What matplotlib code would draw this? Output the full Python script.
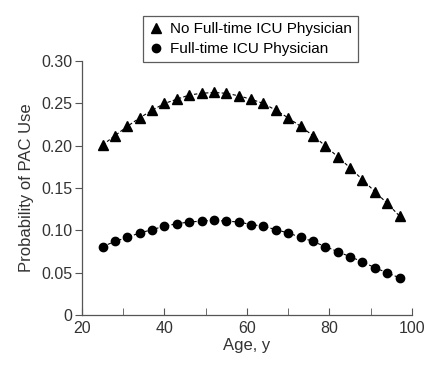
import matplotlib
matplotlib.use("Agg")
import matplotlib.pyplot as plt
from matplotlib.ticker import MultipleLocator, FuncFormatter

plt.rcParams['font.family'] = ['Liberation Sans', 'DejaVu Sans']

# age points (every 3 years)
ages = [25, 28, 31, 34, 37, 40, 43, 46, 49, 52, 55, 58, 61,
        64, 67, 70, 73, 76, 79, 82, 85, 88, 91, 94, 97]

# no full-time ICU physician
no_fulltime = [0.201, 0.212, 0.223, 0.233, 0.242, 0.250, 0.255, 0.260, 0.262,
               0.263, 0.262, 0.259, 0.255, 0.250, 0.242, 0.233, 0.223, 0.212,
               0.200, 0.187, 0.174, 0.160, 0.146, 0.132, 0.117]

# full-time ICU physician
fulltime = [0.081, 0.087, 0.092, 0.097, 0.101, 0.105, 0.108, 0.110, 0.111,
            0.112, 0.111, 0.110, 0.107, 0.105, 0.101, 0.097, 0.092, 0.087,
            0.081, 0.075, 0.069, 0.063, 0.056, 0.050, 0.044]

txt = '#333333'

fig = plt.figure(figsize=(4.26, 3.66), dpi=100)
ax = fig.add_axes([0.1925, 0.139, 0.7745, 0.694])

ax.plot(ages, no_fulltime, color='black', linestyle=(0, (3, 2)), linewidth=0.8,
        marker='^', markersize=7.5, label='No Full-time ICU Physician')
ax.plot(ages, fulltime, color='black', linestyle=(0, (3, 2)), linewidth=0.8,
        marker='o', markersize=6, label='Full-time ICU Physician')

ax.set_xlim(20, 100)
ax.set_ylim(0, 0.30)
ax.xaxis.set_major_locator(MultipleLocator(20))
ax.xaxis.set_minor_locator(MultipleLocator(10))
ax.yaxis.set_major_locator(MultipleLocator(0.05))
ax.yaxis.set_major_formatter(FuncFormatter(lambda v, p: '0' if abs(v) < 1e-9 else f'{v:.2f}'))

for s in ['top', 'right']:
    ax.spines[s].set_visible(False)
for s in ['left', 'bottom']:
    ax.spines[s].set_color('#555555')
    ax.spines[s].set_linewidth(0.9)

ax.tick_params(axis='x', which='both', direction='in', length=5, color='#555555',
               labelsize=11.5, labelcolor=txt, pad=4)
ax.tick_params(axis='y', direction='out', length=5, color='#555555',
               labelsize=11.5, labelcolor=txt, pad=2)

ax.set_xlabel('Age, y', fontsize=12, color=txt, labelpad=2)
ax.set_ylabel('Probability of PAC Use', fontsize=12, color=txt, labelpad=5)

leg = ax.legend(loc='lower center', bbox_to_anchor=(0.51, 0.995), ncol=1,
                frameon=True, fancybox=False, fontsize=11, handlelength=0.9,
                handletextpad=0.5, borderpad=0.4, labelspacing=0.4,
                borderaxespad=0)
leg.get_frame().set_edgecolor('#333333')
leg.get_frame().set_linewidth(0.9)
for h in leg.legend_handles:
    h.set_linestyle('none')
for t in leg.get_texts():
    t.set_color('black')

fig.savefig('out.png', dpi=100)
